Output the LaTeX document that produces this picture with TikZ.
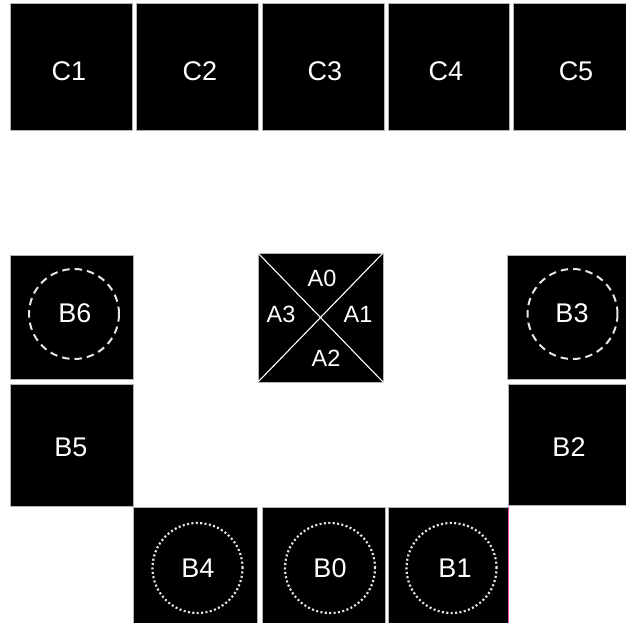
\documentclass[tikz,border=0pt]{standalone}
\usepackage{fontspec}
\setmainfont{Liberation Sans}
\begin{document}
\begin{tikzpicture}[x=1pt,y=-1pt,
  cell/.style={draw=gray!60,line width=0.8pt,fill=black,inner sep=0,rectangle},
  lbl/.style={text=white,inner sep=0,font=\fontsize{27}{31}\selectfont},
  albl/.style={text=white,inner sep=0,font=\fontsize{23.5}{27}\selectfont},
  dashcirc/.style={circle,draw=white!90!black,line width=2pt,dash pattern=on 7.5pt off 5pt,minimum size=90,inner sep=0},
  dotcirc/.style={circle,draw=white!90!black,line width=2.2pt,dash pattern=on 2pt off 2.4pt,minimum size=90,inner sep=0},
  diag/.style={draw=white,line width=1.1pt}]
\useasboundingbox (0,0) rectangle (626,623);
\fill[white] (0,0) rectangle (626,623);
\clip (0,0) rectangle (626,623);
% top row
\node[cell,minimum width=122,minimum height=127] (C1) at (71,66.5) {};
\node[cell,minimum width=122,minimum height=127] (C2) at (197,66.5) {};
\node[cell,minimum width=122,minimum height=127] (C3) at (323,66.5) {};
\node[cell,minimum width=121,minimum height=127] (C4) at (448.5,66.5) {};
\node[cell,minimum width=122,minimum height=127] (C5) at (574,66.5) {};
\node[lbl] (C1l) at (69,71) {C1};
\node[lbl] (C2l) at (200,71) {C2};
\node[lbl] (C3l) at (325,71) {C3};
\node[lbl] (C4l) at (446,71) {C4};
\node[lbl] (C5l) at (576,71) {C5};
% left column
\node[cell,minimum width=123,minimum height=124] (B6) at (71.5,317) {};
\node[cell,minimum width=123,minimum height=122] (B5) at (71.5,445) {};
\node[dashcirc] (B6c) at (74,314) {};
\node[lbl] (B6l) at (75,313) {B6};
\node[lbl] (B5l) at (71,447) {B5};
% right column
\node[cell,minimum width=123,minimum height=124] (B3) at (568.5,317) {};
\node[cell,minimum width=122,minimum height=121] (B2) at (569,444.5) {};
\node[dashcirc] (B3c) at (572.5,314) {};
\node[lbl] (B3l) at (572,313) {B3};
\node[lbl] (B2l) at (569,447) {B2};
% bottom row
\node[cell,minimum width=124,minimum height=123] (B4) at (195,568.5) {};
\node[cell,minimum width=123,minimum height=123] (B0) at (323.5,568.5) {};
\node[cell,minimum width=120,minimum height=123] (B1) at (448,568.5) {};
\draw[magenta!70,line width=0.8pt] (B1.north east) -- (B1.south east);
\node[dotcirc] (B4c) at (197.5,568) {};
\node[dotcirc] (B0c) at (330,568) {};
\node[dotcirc] (B1c) at (451.5,568) {};
\node[lbl] (B4l) at (198,568) {B4};
\node[lbl] (B0l) at (330,568) {B0};
\node[lbl] (B1l) at (455,568) {B1};
% centre box
\node[cell,minimum width=125,minimum height=129] (A) at (320.5,317.5) {};
\draw[diag] (A.north west) -- (A.south east);
\draw[diag] (A.north east) -- (A.south west);
\node[albl] (A0) at (322,278) {A0};
\node[albl] (A1) at (358,314) {A1};
\node[albl] (A2) at (326,358) {A2};
\node[albl] (A3) at (281,314) {A3};
\end{tikzpicture}
\end{document}
